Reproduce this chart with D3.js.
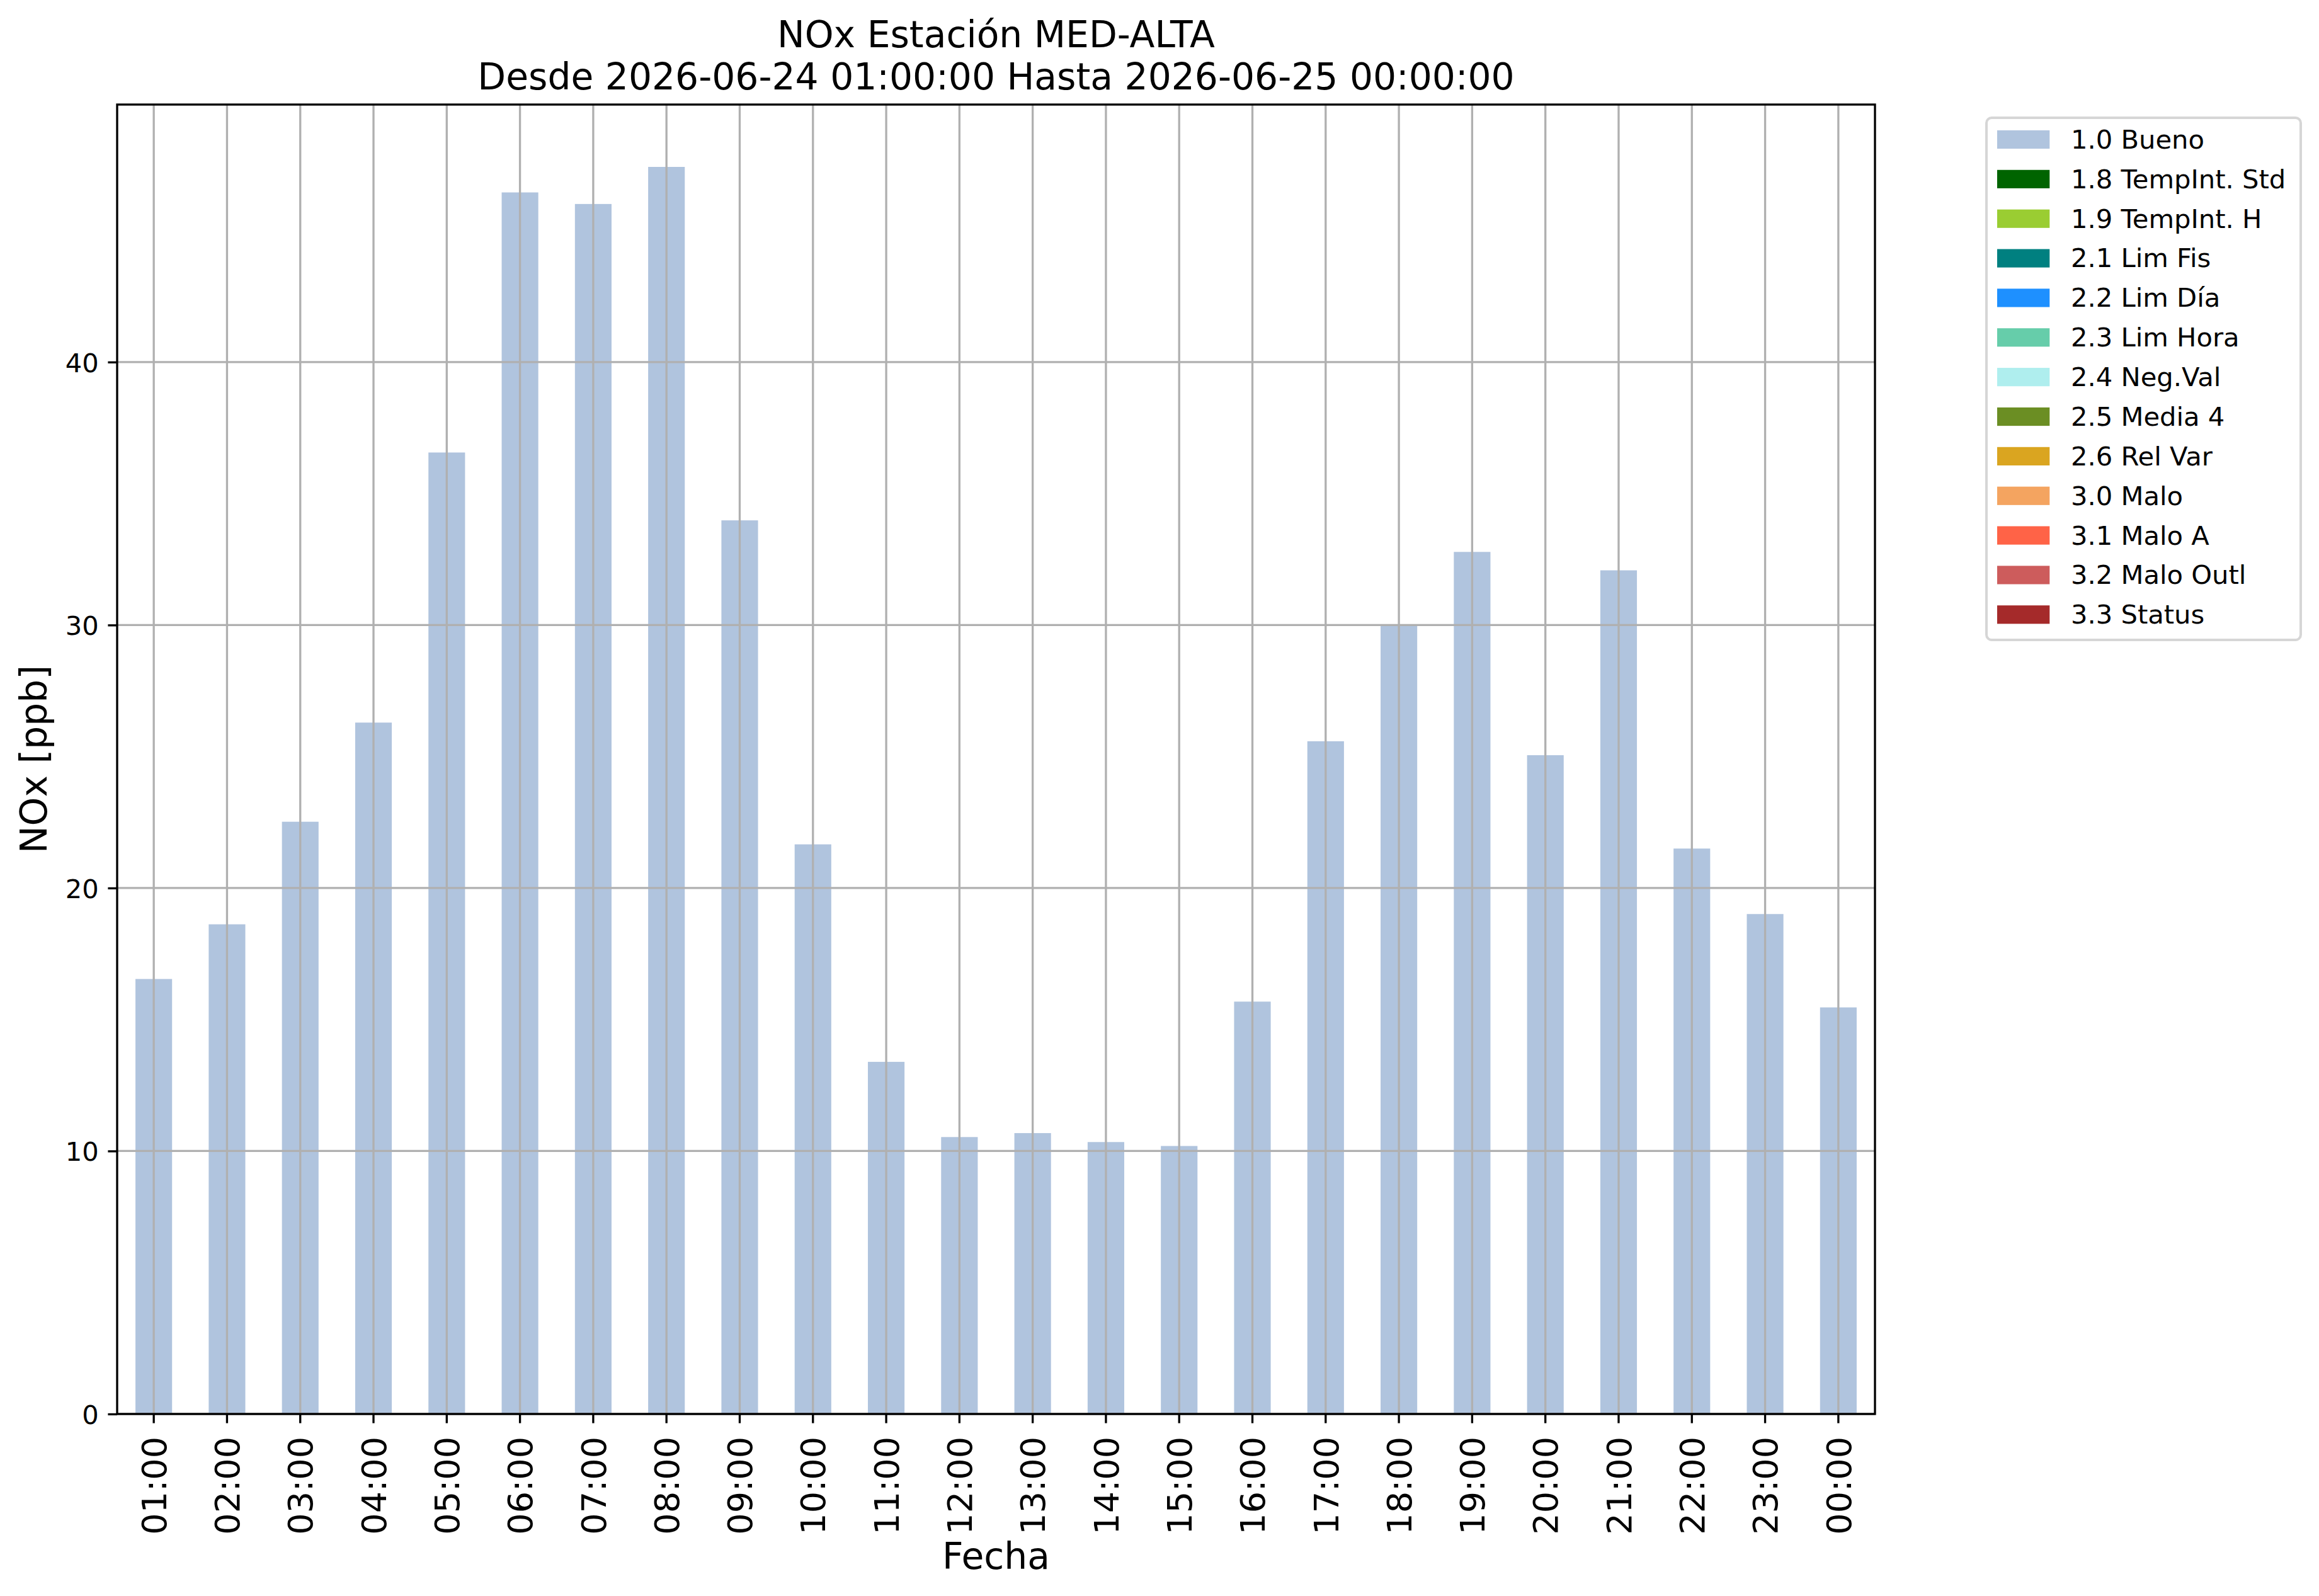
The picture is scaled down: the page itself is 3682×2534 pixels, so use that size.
<!DOCTYPE html>
<html>
<head>
<meta charset="utf-8">
<script src="https://cdn.jsdelivr.net/npm/d3@7"></script>
<style>
  html, body { margin: 0; padding: 0; background: #ffffff; }
  svg { display: block; font-family: "DejaVu Sans", sans-serif; }
</style>
</head>
<body>
<svg id="chart" width="3682" height="2534"></svg>
<script>
// ---------------- data ----------------
const categories = ["01:00","02:00","03:00","04:00","05:00","06:00","07:00","08:00","09:00","10:00","11:00","12:00",
                    "13:00","14:00","15:00","16:00","17:00","18:00","19:00","20:00","21:00","22:00","23:00","00:00"];
const noxValues = [16.54, 18.62, 22.52, 26.29, 36.56, 46.45, 46.01, 47.42, 33.98, 21.66, 13.39, 10.53,
                   10.68, 10.34, 10.19, 15.68, 25.58, 30.02, 32.78, 25.05, 32.08, 21.50, 19.01, 15.46];
const yTicks = [0, 10, 20, 30, 40];
const legendLabels = ["1.0 Bueno","1.8 TempInt. Std","1.9 TempInt. H","2.1 Lim Fis","2.2 Lim Día","2.3 Lim Hora",
                      "2.4 Neg.Val","2.5 Media 4","2.6 Rel Var","3.0 Malo","3.1 Malo A","3.2 Malo Outl","3.3 Status"];
const legendColors = ["#b0c4de","#006400","#9acd32","#008080","#1e90ff","#66cdaa",
                      "#afeeee","#6b8e23","#daa520","#f4a460","#ff6347","#cd5c5c","#a52a2a"];
const titleLines = ["NOx Estación MED-ALTA", "Desde 2026-06-24 01:00:00 Hasta 2026-06-25 00:00:00"];
const xLabel = "Fecha";
const yLabel = "NOx [ppb]";

// ---------------- layout ----------------
const L = 186, R = 2977, T = 166, B = 2245;
const lw = 3.33, tickLen = 14.6;
const gridColor = "#b0b0b0";

const svg = d3.select("#chart");
svg.append("rect").attr("width", 3682).attr("height", 2534).attr("fill", "#ffffff");

const x = d3.scaleBand().domain(categories).range([L, R]).paddingInner(0.5).paddingOuter(0.25);
const yMax = d3.max(noxValues) * 1.05;
const y = d3.scaleLinear().domain([0, yMax]).range([B, T]);

// bars
svg.append("g").selectAll("rect").data(noxValues).join("rect")
  .attr("x", (d, i) => x(categories[i]))
  .attr("width", x.bandwidth())
  .attr("y", d => y(d))
  .attr("height", d => y(0) - y(d))
  .attr("fill", legendColors[0]);

// grid (drawn above bars)
const grid = svg.append("g");
grid.selectAll("line.v").data(categories).join("line").attr("class", "v")
  .attr("x1", d => x(d) + x.bandwidth() / 2).attr("x2", d => x(d) + x.bandwidth() / 2)
  .attr("y1", T).attr("y2", B)
  .attr("stroke", gridColor).attr("stroke-width", lw);
grid.selectAll("line.h").data(yTicks).join("line").attr("class", "h")
  .attr("x1", L).attr("x2", R)
  .attr("y1", d => y(d)).attr("y2", d => y(d))
  .attr("stroke", gridColor).attr("stroke-width", lw);

// y axis
const yAxis = svg.append("g").attr("transform", `translate(${L},0)`)
  .call(d3.axisLeft(y).tickValues(yTicks).tickFormat(d3.format("d")).tickSize(tickLen).tickPadding(14.6).tickSizeOuter(0));
yAxis.select(".domain").remove();
yAxis.selectAll(".tick line").attr("stroke", "#000").attr("stroke-width", lw);
yAxis.selectAll(".tick text").attr("font-size", 41.67).attr("fill", "#000")
  .attr("font-family", "DejaVu Sans").attr("dy", "0.365em");

// x axis
const xAxis = svg.append("g").attr("transform", `translate(0,${B})`)
  .call(d3.axisBottom(x).tickSize(tickLen).tickSizeOuter(0));
xAxis.select(".domain").remove();
xAxis.selectAll(".tick line").attr("stroke", "#000").attr("stroke-width", lw);
xAxis.selectAll(".tick text")
  .attr("font-size", 54).attr("fill", "#000").attr("font-family", "DejaVu Sans")
  .attr("text-anchor", "end")
  .attr("x", 0).attr("y", 0).attr("dy", "0.365em")
  .attr("transform", "translate(0,36) rotate(-90)");

// spines
svg.append("rect").attr("x", L).attr("y", T).attr("width", R - L).attr("height", B - T)
  .attr("fill", "none").attr("stroke", "#000").attr("stroke-width", lw);

// title
const cx = (L + R) / 2;
svg.append("g").selectAll("text").data(titleLines).join("text")
  .attr("x", cx).attr("y", (d, i) => 75.4 + i * 66.2)
  .attr("text-anchor", "middle").attr("font-size", 58.3).attr("fill", "#000")
  .text(d => d);

// axis labels
svg.append("text").attr("x", cx).attr("y", 2491).attr("text-anchor", "middle")
  .attr("font-size", 58.3).attr("fill", "#000").text(xLabel);
svg.append("text").attr("transform", `translate(74,${(T + B) / 2}) rotate(-90)`)
  .attr("text-anchor", "middle").attr("font-size", 58.3).attr("fill", "#000").text(yLabel);

// legend
const lg = svg.append("g");
const legX = 3154, legY = 187, legW = 499, legH = 829;
lg.append("rect").attr("x", legX).attr("y", legY).attr("width", legW).attr("height", legH)
  .attr("rx", 8.3).attr("ry", 8.3)
  .attr("fill", "#ffffff").attr("fill-opacity", 0.8)
  .attr("stroke", "#cccccc").attr("stroke-opacity", 0.8).attr("stroke-width", 4);
const rowY = i => 221.5 + i * 62.86;
lg.selectAll("rect.h").data(legendLabels).join("rect").attr("class", "h")
  .attr("x", 3171).attr("width", 83.3)
  .attr("y", (d, i) => rowY(i) - 14.6).attr("height", 29.2)
  .attr("fill", (d, i) => legendColors[i]);
lg.selectAll("text").data(legendLabels).join("text")
  .attr("x", 3288).attr("y", (d, i) => rowY(i) + 14.4)
  .attr("font-size", 41.67).attr("fill", "#000")
  .text(d => d);
</script>
</body>
</html>
